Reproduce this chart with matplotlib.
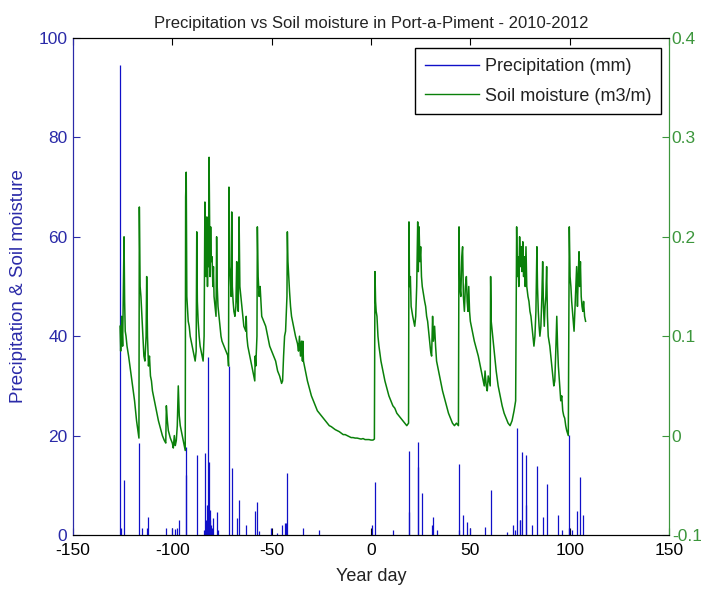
import matplotlib
matplotlib.use("Agg")
from matplotlib import pyplot as plt
from matplotlib.lines import Line2D
from matplotlib.ticker import FormatStrFormatter
import numpy as np

plt.rcParams['font.family'] = ['Liberation Sans', 'DejaVu Sans']
plt.rcParams['axes.unicode_minus'] = False

# precipitation events (year day, mm)
rain_day = [-126.3, -125.6, -124.1, -116.6, -115.4, -112.9, -112.4, -103.0, -100.0, -98.8,
            -97.5, -96.5, -93.3, -93.0, -87.7, -84.2, -83.5, -83.0, -82.6, -82.2,
            -81.9, -81.5, -81.2, -80.8, -80.4, -80.0, -79.3, -77.7, -76.8, -71.5,
            -70.1, -67.6, -66.3, -62.9, -58.4, -57.2, -56.5, -50.3, -47.5, -45.0,
            -43.3, -42.6, -42.1, -34.4, -26.0, 0.3, 2.0, 11.2, 18.9, 19.1,
            23.5, 23.8, 25.5, 30.5, 31.4, 33.4, 44.1, 44.3, 46.1, 48.1,
            49.8, 57.4, 60.2, 68.3, 71.3, 72.5, 73.3, 74.8, 75.2, 76.2,
            77.8, 78.0, 81.2, 83.5, 86.4, 88.4, 93.9, 96.0, 99.6, 99.8,
            101.4, 103.9, 105.2, 106.5]
rain_mm = [94.5, 1.5, 11.0, 18.5, 1.5, 1.5, 3.7, 1.5, 1.5, 1.2,
           1.5, 3.0, 17.8, 12.0, 16.0, 1.0, 16.5, 3.0, 6.0, 35.9,
           6.0, 14.7, 5.0, 3.0, 2.0, 1.5, 3.5, 4.6, 1.0, 34.0,
           13.4, 3.4, 7.0, 2.0, 4.9, 6.7, 0.8, 1.5, 0.5, 2.0,
           2.5, 2.5, 12.4, 1.5, 1.0, 2.0, 10.7, 1.0, 4.6, 17.0,
           18.8, 13.7, 8.4, 2.0, 3.7, 1.0, 1.0, 14.3, 4.0, 2.7,
           1.5, 1.7, 9.0, 0.7, 2.0, 1.0, 21.6, 3.0, 3.0, 16.6,
           6.0, 16.1, 2.0, 13.9, 3.7, 10.2, 4.0, 1.0, 1.5, 20.1,
           1.0, 4.9, 11.6, 4.0]

# soil moisture (year day, m3/m)
soil_day = [-126.3, -126.0, -125.5, -125.0, -124.3, -124.0, -123.7, -123.3, -122.8, -122.0,
            -121.0, -120.0, -119.0, -118.5, -118.0, -117.3, -116.8, -116.6, -116.2, -115.8,
            -115.3, -114.8, -114.3, -113.8, -113.2, -112.9, -112.5, -112.0, -111.5, -111.0,
            -110.5, -110.0, -109.0, -108.0, -107.0, -106.0, -105.0, -104.0, -103.3, -103.0,
            -102.5, -102.0, -101.0, -100.0, -99.5, -99.0, -98.5, -98.0, -97.5, -97.0,
            -96.5, -96.0, -95.0, -94.0, -93.5, -93.3, -93.0, -92.7, -92.3, -92.0,
            -91.5, -91.0, -90.0, -89.0, -88.5, -88.0, -87.7, -87.4, -87.0, -86.5,
            -86.0, -85.5, -85.0, -84.5, -84.0, -83.6, -83.3, -83.0, -82.6, -82.3,
            -82.0, -81.7, -81.5, -81.2, -81.0, -80.7, -80.4, -80.0, -79.6, -79.3,
            -79.0, -78.5, -78.0, -77.7, -77.4, -77.0, -76.5, -76.0, -75.5, -75.0,
            -74.0, -73.0, -72.0, -71.7, -71.5, -71.2, -70.8, -70.4, -70.1, -69.8,
            -69.4, -69.0, -68.5, -68.0, -67.6, -67.2, -66.8, -66.4, -66.0, -65.5,
            -65.0, -64.0, -63.0, -62.8, -62.5, -62.0, -61.0, -60.0, -59.0, -58.5,
            -58.3, -58.0, -57.4, -57.2, -56.8, -56.3, -55.8, -55.3, -55.0, -54.0,
            -53.0, -52.0, -51.0, -50.0, -49.0, -48.0, -47.0, -46.0, -45.0, -44.5,
            -44.0, -43.5, -43.0, -42.3, -42.1, -41.8, -41.4, -41.0, -40.5, -40.0,
            -39.0, -38.0, -37.0, -36.5, -36.0, -35.5, -35.0, -34.5, -34.3, -34.0,
            -33.0, -32.0, -31.0, -30.0, -29.0, -28.0, -27.0, -26.0, -25.0, -24.0,
            -23.0, -22.0, -21.0, -20.0, -19.0, -18.0, -17.0, -16.0, -15.0, -14.0,
            -13.0, -12.0, -11.0, -10.0, -9.0, -8.0, -7.0, -6.0, -5.0, -4.0,
            -3.0, -2.0, -1.0, 0.0, 1.0, 1.7, 2.0, 2.3, 2.6, 3.0,
            3.5, 4.0, 5.0, 6.0, 7.0, 8.0, 9.0, 10.0, 11.0, 12.0,
            13.0, 14.0, 15.0, 16.0, 17.0, 18.0, 18.9, 19.1, 19.4, 19.8,
            20.2, 20.6, 21.0, 21.5, 22.0, 22.5, 23.0, 23.5, 23.8, 24.2,
            24.6, 25.0, 25.4, 25.8, 26.2, 26.6, 27.0, 27.5, 28.0, 28.5,
            29.0, 29.5, 30.0, 30.5, 31.0, 31.4, 32.0, 32.5, 33.0, 34.0,
            35.0, 36.0, 37.0, 38.0, 39.0, 40.0, 41.0, 42.0, 43.0, 44.0,
            44.3, 44.7, 45.2, 45.7, 46.1, 46.5, 47.0, 47.5, 48.0, 48.4,
            48.8, 49.2, 49.6, 50.0, 51.0, 52.0, 53.0, 54.0, 55.0, 56.0,
            57.0, 57.4, 58.0, 58.5, 59.0, 59.5, 60.0, 60.2, 60.5, 61.0,
            62.0, 63.0, 64.0, 65.0, 66.0, 67.0, 68.0, 69.0, 70.0, 71.0,
            72.0, 72.8, 73.3, 73.6, 74.0, 74.4, 74.8, 75.2, 75.6, 76.0,
            76.4, 76.8, 77.2, 77.6, 78.0, 78.4, 79.0, 79.5, 80.0, 80.5,
            81.0, 81.5, 82.0, 82.5, 83.0, 83.5, 83.8, 84.2, 84.6, 85.0,
            85.5, 86.0, 86.4, 86.8, 87.2, 87.6, 88.0, 88.4, 88.8, 89.2,
            90.0, 90.5, 91.0, 91.5, 92.0, 92.5, 93.0, 93.5, 93.9, 94.3,
            95.0, 95.5, 96.0, 96.5, 97.0, 97.5, 98.0, 98.5, 99.3, 99.8,
            100.2, 100.6, 101.0, 101.4, 101.8, 102.2, 102.6, 103.0, 103.5, 103.9,
            104.3, 104.7, 105.0, 105.4, 105.8, 106.2, 106.6, 107.0, 107.5, 108.0]
soil = [0.110, 0.085, 0.120, 0.090, 0.200, 0.135, 0.105, 0.100, 0.090, 0.080,
        0.065, 0.050, 0.035, 0.025, 0.015, 0.005, -0.0025, 0.230, 0.150, 0.140,
        0.120, 0.100, 0.080, 0.075, 0.100, 0.160, 0.100, 0.070, 0.080, 0.060,
        0.055, 0.045, 0.035, 0.025, 0.015, 0.0075, 0.000, -0.005, -0.0075, 0.030,
        0.015, 0.005, -0.0025, -0.0075, -0.0125, 0.000, -0.010, -0.005, 0.010, 0.050,
        0.020, 0.010, 0.000, -0.010, -0.015, 0.240, 0.265, 0.140, 0.125, 0.115,
        0.110, 0.100, 0.090, 0.080, 0.075, 0.085, 0.205, 0.135, 0.115, 0.100,
        0.090, 0.085, 0.080, 0.075, 0.100, 0.235, 0.175, 0.160, 0.220, 0.150,
        0.215, 0.170, 0.280, 0.200, 0.160, 0.210, 0.175, 0.180, 0.150, 0.170,
        0.140, 0.130, 0.120, 0.200, 0.150, 0.130, 0.120, 0.110, 0.100, 0.095,
        0.090, 0.085, 0.080, 0.070, 0.250, 0.170, 0.160, 0.140, 0.225, 0.150,
        0.135, 0.125, 0.120, 0.130, 0.175, 0.135, 0.125, 0.220, 0.150, 0.140,
        0.130, 0.110, 0.105, 0.120, 0.100, 0.090, 0.080, 0.070, 0.060, 0.055,
        0.080, 0.070, 0.100, 0.210, 0.160, 0.140, 0.150, 0.130, 0.120, 0.115,
        0.110, 0.100, 0.090, 0.085, 0.080, 0.075, 0.065, 0.060, 0.0525, 0.055,
        0.080, 0.100, 0.105, 0.140, 0.205, 0.175, 0.160, 0.145, 0.130, 0.120,
        0.110, 0.100, 0.0925, 0.085, 0.100, 0.080, 0.095, 0.075, 0.095, 0.075,
        0.065, 0.055, 0.0475, 0.040, 0.035, 0.030, 0.025, 0.0225, 0.020, 0.0175,
        0.015, 0.0125, 0.010, 0.009, 0.0075, 0.006, 0.005, 0.004, 0.0025, 0.001,
        0.001, 0.000, -0.001, -0.002, -0.002, -0.0025, -0.0025, -0.003, -0.0035, -0.003,
        -0.004, -0.004, -0.004, -0.0045, -0.0045, -0.0035, 0.165, 0.135, 0.125, 0.120,
        0.100, 0.090, 0.075, 0.065, 0.055, 0.0475, 0.040, 0.035, 0.030, 0.0275,
        0.0225, 0.020, 0.0175, 0.015, 0.0125, 0.010, 0.0125, 0.215, 0.150, 0.160,
        0.130, 0.125, 0.120, 0.115, 0.110, 0.120, 0.150, 0.215, 0.165, 0.210,
        0.175, 0.190, 0.160, 0.150, 0.145, 0.140, 0.135, 0.130, 0.120, 0.115,
        0.105, 0.095, 0.085, 0.080, 0.120, 0.095, 0.110, 0.090, 0.075, 0.065,
        0.055, 0.045, 0.0375, 0.030, 0.0225, 0.0175, 0.0125, 0.010, 0.0125, 0.010,
        0.210, 0.150, 0.140, 0.180, 0.190, 0.140, 0.125, 0.150, 0.160, 0.135,
        0.125, 0.150, 0.125, 0.115, 0.105, 0.095, 0.0875, 0.080, 0.070, 0.060,
        0.050, 0.065, 0.050, 0.045, 0.060, 0.055, 0.050, 0.160, 0.115, 0.105,
        0.085, 0.065, 0.050, 0.040, 0.030, 0.0225, 0.0175, 0.0125, 0.010, 0.015,
        0.025, 0.035, 0.210, 0.160, 0.180, 0.150, 0.200, 0.170, 0.190, 0.165,
        0.195, 0.160, 0.180, 0.150, 0.190, 0.150, 0.140, 0.135, 0.125, 0.120,
        0.110, 0.100, 0.090, 0.100, 0.125, 0.190, 0.150, 0.125, 0.110, 0.100,
        0.110, 0.140, 0.175, 0.130, 0.110, 0.130, 0.140, 0.170, 0.120, 0.100,
        0.090, 0.080, 0.070, 0.060, 0.050, 0.055, 0.085, 0.120, 0.090, 0.070,
        0.050, 0.035, 0.040, 0.025, 0.020, 0.0175, 0.010, 0.005, 0.000, 0.210,
        0.160, 0.150, 0.135, 0.125, 0.115, 0.105, 0.125, 0.145, 0.170, 0.130,
        0.160, 0.185, 0.150, 0.175, 0.140, 0.130, 0.125, 0.135, 0.120, 0.115]

blue = '#1010c8'
green = '#0a800a'
blue_txt = '#2a2aa8'
green_txt = '#3c963c'

fig = plt.figure(figsize=(7.01, 5.92), dpi=100)
ax = fig.add_axes([0.1041, 0.0963, 0.8503, 0.8395])
ax2 = ax.twinx()

ax.vlines(rain_day, 0, rain_mm, color=blue, linewidth=0.9)
ax2.plot(soil_day, soil, color=green, linewidth=1.1)

ax.set_xlim(-150, 150)
ax.set_ylim(0, 100)
ax2.set_ylim(-0.1, 0.4)
ax.set_xticks(np.arange(-150, 151, 50))
ax.set_yticks(np.arange(0, 101, 20))
ax2.set_yticks([-0.1, 0, 0.1, 0.2, 0.3, 0.4])
ax2.yaxis.set_major_formatter(FormatStrFormatter('%g'))

ax.tick_params(axis='x', direction='in', top=True, length=5, labelsize=12.5, colors='black', pad=6)
ax.tick_params(axis='y', direction='in', length=5, labelsize=12.5, colors=blue_txt, pad=4)
ax2.tick_params(axis='y', direction='in', length=5, labelsize=12.5, colors=green_txt, pad=2)

for a in (ax, ax2):
    a.spines['top'].set_color('black')
    a.spines['bottom'].set_color('black')
    a.spines['left'].set_color(blue_txt)
    a.spines['right'].set_color(green_txt)

ax.set_xlabel('Year day', fontsize=13, labelpad=7, color='#222222')
ax.set_ylabel('Precipitation & Soil moisture', fontsize=13.5, color=blue_txt, labelpad=8)
ax.set_title('Precipitation vs Soil moisture in Port-a-Piment - 2010-2012', fontsize=12,
             pad=7, color='#222222')

handles = [Line2D([], [], color=blue, linewidth=1), Line2D([], [], color=green, linewidth=1)]
leg = ax2.legend(handles, ['Precipitation (mm)', 'Soil moisture (m3/m)'], loc='upper right',
                 bbox_to_anchor=(0.987, 0.98), fontsize=13, frameon=True, fancybox=False,
                 framealpha=1, edgecolor='black', handlelength=3.0, borderpad=0.55,
                 labelspacing=0.7, handletextpad=0.3, borderaxespad=0)
leg.get_frame().set_linewidth(1)
for t in leg.get_texts():
    t.set_color('#222222')

fig.savefig('out.png', dpi=100)
